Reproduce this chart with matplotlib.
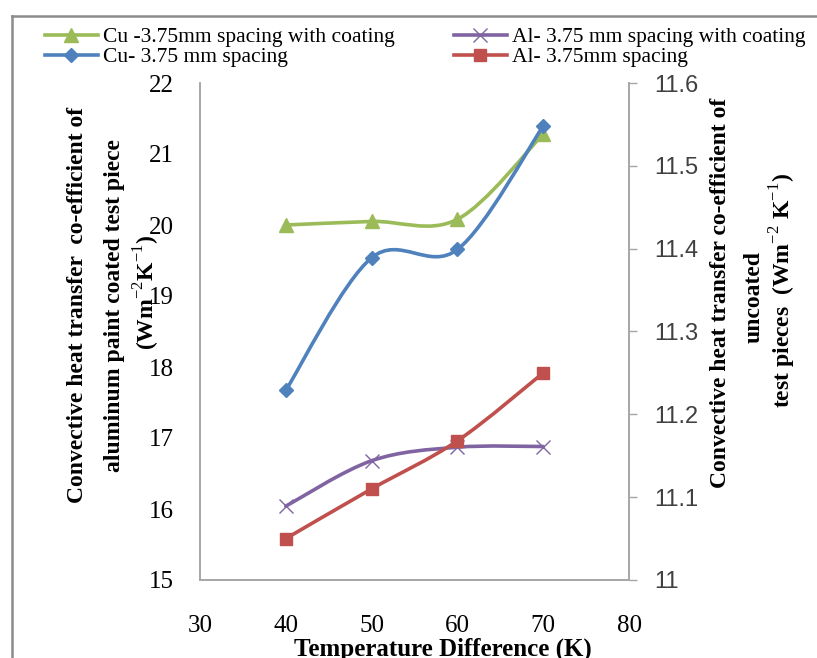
import numpy as np
import matplotlib
matplotlib.use('Agg')
import matplotlib.pyplot as plt
from matplotlib.path import Path
from matplotlib.patches import PathPatch
from matplotlib.lines import Line2D

plt.rcParams['mathtext.fontset'] = 'custom'
plt.rcParams['mathtext.rm'] = 'Liberation Serif'
plt.rcParams['mathtext.bf'] = 'Liberation Serif:bold'

temp_diff = [40, 50, 60, 70]

# left axis (coated)
cu_coated = [20.0, 20.05, 20.08, 21.28]
al_coated = [16.04, 16.68, 16.87, 16.88]
# right axis (uncoated)
cu_plain = [11.229, 11.389, 11.399, 11.548]
al_plain = [11.05, 11.11, 11.168, 11.25]

x_ticks = [30, 40, 50, 60, 70, 80]
left_ticks = [15, 16, 17, 18, 19, 20, 21, 22]
right_ticks = [11.0, 11.1, 11.2, 11.3, 11.4, 11.5, 11.6]
right_tick_labels = ['11', '11.1', '11.2', '11.3', '11.4', '11.5', '11.6']

left_label = ['Convective heat transfer  co-efficient of',
              'aluminum paint coated test piece',
              r'(Wm$^{-2}$K$^{-1}$)']
right_label = ['Convective heat transfer co-efficient of',
               'uncoated',
               r'test pieces  (Wm$^{-2}$ K$^{-1}$)']

GREEN = '#9BBB59'
PURPLE = '#8064A2'
BLUE = '#4F81BD'
RED = '#C0504D'
SPINE = '#A6A6A6'


def smooth_path(xs, ys):
    """Excel style smoothed line: cubic Bezier through the points."""
    pts = np.column_stack([xs, ys]).astype(float)
    n = len(pts)
    verts = [pts[0]]
    codes = [Path.MOVETO]
    for i in range(n - 1):
        p0 = pts[i - 1] if i > 0 else pts[i]
        p1 = pts[i]
        p2 = pts[i + 1]
        p3 = pts[i + 2] if i + 2 < n else pts[i + 1]
        c1 = p1 + (p2 - p0) / 6.0
        c2 = p2 - (p3 - p1) / 6.0
        verts += [c1, c2, p2]
        codes += [Path.CURVE4] * 3
    return Path(verts, codes)


def draw_series(axis, xs, ys, color, marker, ms, mew=1.0):
    patch = PathPatch(smooth_path(xs, ys), fill=False, edgecolor=color,
                      lw=2.6, capstyle='round', joinstyle='round')
    axis.add_patch(patch)
    axis.plot(xs, ys, linestyle='none', marker=marker, markersize=ms,
              color=color, markeredgewidth=mew)
    return Line2D([], [], color=color, lw=2.6, marker=marker, markersize=ms,
                  markeredgewidth=mew)


fig = plt.figure(figsize=(8.17, 6.58), dpi=100)
ax = fig.add_axes([200 / 817, 78 / 658, 429 / 817, 497 / 658])
ax2 = ax.twinx()

h_cu_c = draw_series(ax, temp_diff, cu_coated, GREEN, '^', 10)
h_al_c = draw_series(ax, temp_diff, al_coated, PURPLE, 'x', 10, mew=1.0)
h_cu_p = draw_series(ax2, temp_diff, cu_plain, BLUE, 'D', 7.5)
h_al_p = draw_series(ax2, temp_diff, al_plain, RED, 's', 9)

ax.set_xlim(30, 80)
ax.set_ylim(15, 22)
ax2.set_ylim(11, 11.6)
ax.set_xticks(x_ticks)
ax.set_xticklabels([str(v) for v in x_ticks], family='Liberation Serif', fontsize=18)
ax.set_yticks(left_ticks)
ax.set_yticklabels([str(v) for v in left_ticks], family='Liberation Serif', fontsize=18)
ax2.set_yticks(right_ticks)
ax2.set_yticklabels(right_tick_labels, family='Liberation Sans', fontsize=17, color='#404040')

ax.tick_params(axis='x', length=0, pad=25)
ax.tick_params(axis='y', length=0, pad=19)
ax2.tick_params(axis='y', length=6, width=1, color=SPINE, direction='out', pad=12)

for a in (ax, ax2):
    a.spines['top'].set_visible(False)
    for s in ('left', 'right', 'bottom'):
        a.spines[s].set_color(SPINE)
        a.spines[s].set_linewidth(1.2)

# rotated axis titles, one line at a time (x, y centre in pixels)
for txt, (px, py) in zip(left_label, [(78, 305), (115, 306), (147, 292)]):
    fig.text(px / 817, 1 - py / 658, txt, rotation=90, ha='center', va='center',
             family='Liberation Serif', fontweight='bold', fontsize=17)
for txt, (px, py) in zip(right_label, [(720, 293), (754, 297), (783, 291)]):
    fig.text(px / 817, 1 - py / 658, txt, rotation=90, ha='center', va='center',
             family='Liberation Serif', fontweight='bold', fontsize=17)

fig.text(443 / 817, 1 - 649 / 658, 'Temperature Difference (K)',
         ha='center', va='center', family='Liberation Serif',
         fontweight='bold', fontsize=18)

fig.legend([h_cu_c, h_cu_p, h_al_c, h_al_p],
           ['Cu -3.75mm spacing with coating', 'Cu- 3.75 mm spacing',
            'Al- 3.75 mm spacing with coating', 'Al- 3.75mm spacing'],
           ncol=2, loc='upper left', bbox_to_anchor=(45 / 817, 1 - 27 / 658),
           frameon=False, borderpad=0, borderaxespad=0, handlelength=2.45,
           handletextpad=0.25, columnspacing=2.75, labelspacing=0.0,
           prop={'family': 'Liberation Serif', 'size': 15.5})

# chart area border (left and top edges visible)
fig.add_artist(Line2D([12 / 817, 12 / 817], [0, 1 - 16 / 658], color='#8C8C8C',
                      lw=1.8, transform=fig.transFigure))
fig.add_artist(Line2D([12 / 817, 1], [1 - 16 / 658, 1 - 16 / 658], color='#8C8C8C',
                      lw=1.8, transform=fig.transFigure))

fig.savefig('out.png', dpi=100)
